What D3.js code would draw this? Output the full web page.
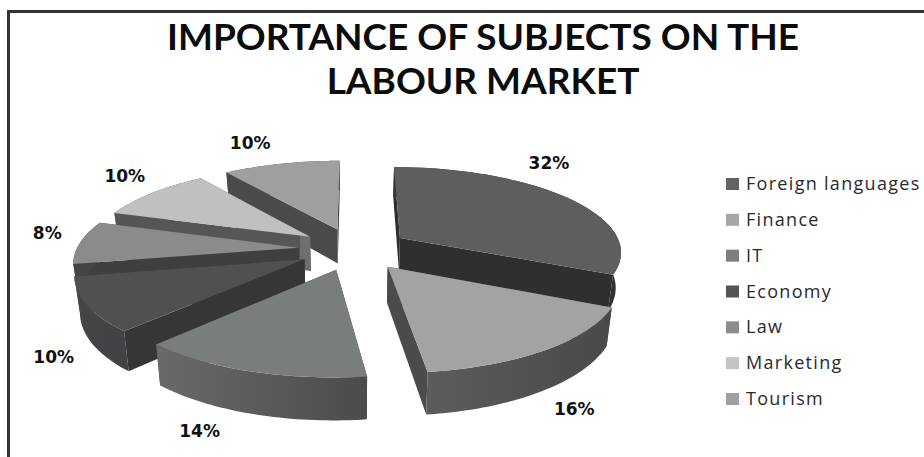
<!DOCTYPE html>
<html>
<head>
<meta charset="utf-8">
<script src="https://d3js.org/d3.v7.min.js"></script>
<style>
html,body{margin:0;padding:0;background:#fff}
svg{display:block}
</style>
</head>
<body>
<svg id="chart" width="924" height="457"></svg>
<script>
// Subject shares, clockwise from twelve o'clock
const subjects = ["Foreign languages","Finance","IT","Economy","Law","Marketing","Tourism"];
const shares = [32,16,14,10,8,10,10];
const titleLines = ["IMPORTANCE OF SUBJECTS ON THE","LABOUR MARKET"];

// Greys for each slice: top face, cut faces, inner tip of the cut face, rim gradient
const topColors  = ["#5d5f5e","#a3a3a3","#7a7d7d","#4f5150","#8a8b8c","#c0c0c0","#9f9f9f"];
const cutColors  = ["#2e2f2e","#4a4b4d","#4a4b4d","#363636","#3e3f3f","#565656","#4a4a4c"];
const cutTips    = ["#2e2f2e","#4a4b4d","#4a4b4d","#363636","#3e3f3f","#6e6e6e","#4a4a4c"];
const rimStart   = ["#353636","#5c5c5c","#6a6a6a","#44474a","#444444","#555555","#4a4a4c"];
const rimEnd     = ["#303131","#47494b","#4a4b4d","#404244","#444444","#555555","#4a4a4c"];
const legendColors = ["#626262","#a6a6a6","#7e7e80","#555555","#8c8c8c","#c4c4c4","#a0a0a0"];

// Painter's order for the exploded slices, far ones first
const drawOrder = [6,0,5,4,3,1,2];
// Label placement: pixel nudge from the rim point at each slice's mid angle
const labelNudge = [[-18,-29],[28,65],[-50,66],[-33,58],[-33,-3],[-27,-11],[-31,-15]];

const svg = d3.select("#chart");
const width = 924, height = 457;
svg.append("rect").attr("width",width).attr("height",height).attr("fill","#fff");

// Frame: top and left rules only run along the visible edges
svg.append("path").attr("d","M8.5,457V11.5H924").attr("fill","none").attr("stroke","#333").attr("stroke-width",3);

const title = svg.append("g").attr("font-family","Lato, sans-serif").attr("font-weight",700).attr("fill","#0c0c0c").attr("text-anchor","middle");
titleLines.forEach((t,i)=> title.append("text").attr("x",483).attr("y",50+i*44).attr("font-size",37).text(t));

// Ground plane to screen: a simple perspective pinhole
const cx = 354, cy = 249, B = 222, A = 84.5, k = 0.15, depth = 35, inset = 0.98, explode = 0.25;
const sx = d3.scaleLinear().domain([-1,1]).range([cx-B,cx+B]);
const sy = d3.scaleLinear().domain([-1,1]).range([cy-A,cy+A]);
function project(u,v,low){
  const s = 1/(1-k*v);
  let x = sx(u*s), y = sy(v*s);
  if(low){ x = cx+(x-cx)*inset; y += depth*s; }
  return [x,y];
}
const pie = d3.pie().sort(null).value(d=>d);
const arcs = pie(shares);
const rimPoint = (a,r,off,low)=> project(r*Math.sin(a)+off[0], -r*Math.cos(a)+off[1], low);
const line = d3.line();

const defs = svg.append("defs");
arcs.forEach((d,i)=>{
  const g = defs.append("linearGradient").attr("id","rim"+i);
  g.append("stop").attr("offset","0%").attr("stop-color",rimStart[i]);
  g.append("stop").attr("offset","100%").attr("stop-color",rimEnd[i]);
  const c = defs.append("linearGradient").attr("id","cut"+i);
  c.append("stop").attr("offset","94.4%").attr("stop-color",cutColors[i]);
  c.append("stop").attr("offset","94.4%").attr("stop-color",cutTips[i]);
});

const slices = svg.append("g");
drawOrder.forEach(i=>{
  const d = arcs[i];
  const mid = (d.startAngle+d.endAngle)/2;
  const off = [explode*Math.sin(mid), -explode*Math.cos(mid)];
  const angles = d3.range(0,41).map(n=> d.startAngle+(d.endAngle-d.startAngle)*n/40);
  const g = slices.append("g");
  const apexT = rimPoint(0,0,off,false), apexB = rimPoint(0,0,off,true);
  [d.endAngle,d.startAngle].forEach(a=>{
    g.append("path").attr("d", line([apexT,apexB,rimPoint(a,1,off,true),rimPoint(a,1,off,false)])+"Z").attr("fill",`url(#cut${i})`);
  });
  const rimTop = angles.map(a=>rimPoint(a,1,off,false));
  const rimLow = angles.map(a=>rimPoint(a,1,off,true)).reverse();
  g.append("path").attr("d", line(rimTop.concat(rimLow))+"Z").attr("fill",`url(#rim${i})`);
  g.append("path").attr("d", line([apexT].concat(rimTop))+"Z").attr("fill",topColors[i]);
});

// Percentage labels
const labels = svg.append("g").attr("font-family","'DejaVu Sans', sans-serif").attr("font-size",17).attr("font-weight",700).attr("fill","#111").attr("text-anchor","middle");
arcs.forEach((d,i)=>{
  const mid = (d.startAngle+d.endAngle)/2;
  const off = [explode*Math.sin(mid), -explode*Math.cos(mid)];
  const p = rimPoint(mid,1,off,false);
  labels.append("text").attr("x",p[0]+labelNudge[i][0]).attr("y",p[1]+labelNudge[i][1]).text(shares[i]+"%");
});

// Legend column
const legendY = d3.scalePoint().domain(subjects).range([184,399]);
const legend = svg.append("g").attr("font-family","'Open Sans', sans-serif").attr("font-size",18).attr("fill","#2a2a2a");
subjects.forEach((s,i)=>{
  legend.append("rect").attr("x",726).attr("y",legendY(s)-6).attr("width",13).attr("height",12).attr("fill",legendColors[i]);
  legend.append("text").attr("x",746).attr("y",legendY(s)+6).attr("letter-spacing",1.3).text(s);
});
</script>
</body>
</html>
